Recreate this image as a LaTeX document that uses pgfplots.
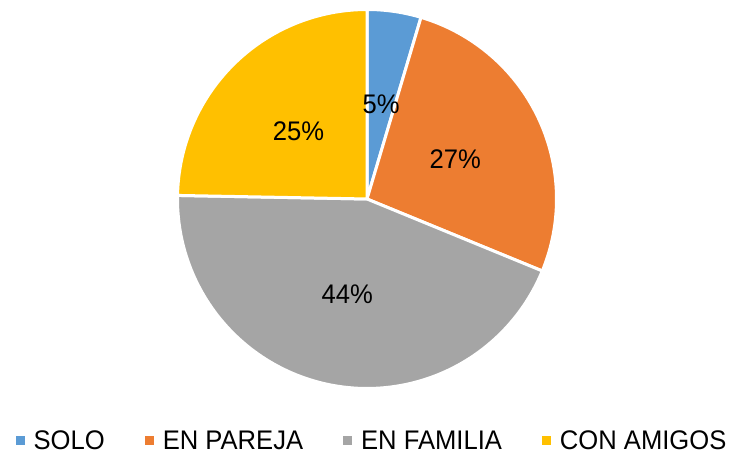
\documentclass[border=0pt]{standalone}
\usepackage{pgfplots}
\usepackage{pgfplotstable}
\usepackage{graphicx}
\pgfplotsset{compat=1.18}
\usepackage{fontspec}
\setmainfont{Liberation Sans}
\definecolor{cA}{HTML}{5B9BD5}
\definecolor{cB}{HTML}{ED7D31}
\definecolor{cC}{HTML}{A5A5A5}
\definecolor{cD}{HTML}{FFC000}
\pgfplotstableread{
name value
SOLO 4.6
PAREJA 26.6
FAMILIA 44.1
AMIGOS 24.7
}\piedata
\newcommand\getv[2]{\pgfplotstablegetelem{#1}{value}\of\piedata\edef#2{\pgfplotsretval}}
\getv{0}\va
\getv{1}\vb
\getv{2}\vc
\getv{3}\vd
\pgfmathsetmacro\aA{0}
\pgfmathsetmacro\aB{\va*3.6}
\pgfmathsetmacro\aC{(\va+\vb)*3.6}
\pgfmathsetmacro\aD{(\va+\vb+\vc)*3.6}
\pgfmathsetmacro\aE{(\va+\vb+\vc+\vd)*3.6}
\def\cx{367}
\def\cy{255}
\def\rr{189.5}
\def\lr{0.52*188}
\pgfmathsetmacro\lxA{\cx+\lr*sin((\aA+\aB)/2)}
\pgfmathsetmacro\lyA{\cy+\lr*cos((\aA+\aB)/2)}
\pgfmathsetmacro\lxB{\cx+\lr*sin((\aB+\aC)/2)}
\pgfmathsetmacro\lyB{\cy+\lr*cos((\aB+\aC)/2)}
\pgfmathsetmacro\lxC{\cx+\lr*sin((\aC+\aD)/2)}
\pgfmathsetmacro\lyC{\cy+\lr*cos((\aC+\aD)/2)}
\pgfmathsetmacro\lxD{\cx+\lr*sin((\aD+\aE)/2)}
\pgfmathsetmacro\lyD{\cy+\lr*cos((\aD+\aE)/2)}
\newcommand\bigf{\fontsize{25.6bp}{30bp}\selectfont}
\newcommand\tl[1]{\scalebox{1}[1.05]{#1}}
\begin{document}
\begin{tikzpicture}
\begin{axis}[
  scale only axis, width=734bp, height=454bp,
  xmin=0, xmax=734, ymin=0, ymax=454,
  hide axis, clip=false,
  legend columns=4,
  legend style={draw=none, fill=none, font=\bigf, at={(axis cs:371,13)}, anchor=center,
    nodes={inner xsep=0pt, inner ysep=1pt},
    /tikz/every odd column/.append style={column sep=9bp},
    /tikz/every even column/.append style={column sep=40bp}},
  legend image code/.code={\fill[#1,draw=none] (0bp,-4.5bp) rectangle (9bp,4.5bp);},
]
\addplot[fill=cA, draw=white, line width=3bp, line join=round, domain=\aA:\aB, samples=40, variable=\t]
  ({\cx+\rr*sin(\t)},{\cy+\rr*cos(\t)}) -- (axis cs:\cx,\cy) -- cycle;
\addplot[fill=cB, draw=white, line width=3bp, line join=round, domain=\aB:\aC, samples=80, variable=\t]
  ({\cx+\rr*sin(\t)},{\cy+\rr*cos(\t)}) -- (axis cs:\cx,\cy) -- cycle;
\addplot[fill=cC, draw=white, line width=3bp, line join=round, domain=\aC:\aD, samples=120, variable=\t]
  ({\cx+\rr*sin(\t)},{\cy+\rr*cos(\t)}) -- (axis cs:\cx,\cy) -- cycle;
\addplot[fill=cD, draw=white, line width=3bp, line join=round, domain=\aD:\aE, samples=80, variable=\t]
  ({\cx+\rr*sin(\t)},{\cy+\rr*cos(\t)}) -- (axis cs:\cx,\cy) -- cycle;
\legend{\tl{SOLO}, \tl{EN PAREJA}, \tl{EN FAMILIA}, \tl{CON AMIGOS}}
\node[font=\bigf, yshift=-2bp] at (axis cs:\lxA,\lyA) {\tl{5\%}};
\node[font=\bigf, yshift=-2bp] at (axis cs:\lxB,\lyB) {\tl{27\%}};
\node[font=\bigf] at (axis cs:\lxC,\lyC) {\tl{44\%}};
\node[font=\bigf, yshift=-2bp] at (axis cs:\lxD,\lyD) {\tl{25\%}};
\path (axis cs:0,0) rectangle (axis cs:734,454);
\end{axis}
\end{tikzpicture}
\end{document}
